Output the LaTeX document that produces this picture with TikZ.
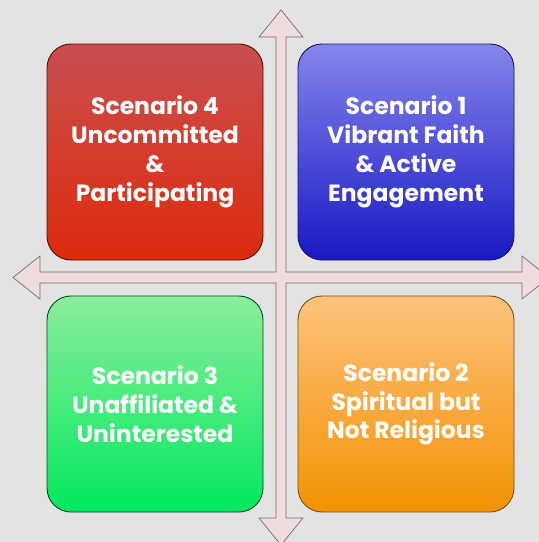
\documentclass[tikz,border=0pt]{standalone}
\usepackage{fontspec}
\setmainfont{Poppins}
\definecolor{bg}{HTML}{E3E3E3}
\definecolor{crossfill}{HTML}{EFDCDC}
\definecolor{crossline}{HTML}{7A6A6A}
\definecolor{rtop}{HTML}{C94F4F}\definecolor{rmid}{HTML}{B01800}\definecolor{rbot}{HTML}{DD2A0C}
\definecolor{btop}{HTML}{8585EC}\definecolor{bmid}{HTML}{2828CC}\definecolor{bbot}{HTML}{1818C4}
\definecolor{gtop}{HTML}{8CEE9C}\definecolor{gmid}{HTML}{00BE4C}\definecolor{gbot}{HTML}{00E85E}
\definecolor{otop}{HTML}{FFC27E}\definecolor{omid}{HTML}{F4A11E}\definecolor{obot}{HTML}{F39200}
\begin{document}
\begin{tikzpicture}[x=1pt,y=-1pt,
  quad/.style={draw=#1, line width=0.9pt, rounded corners=24pt,
    minimum width=216pt, minimum height=216pt, inner sep=0pt,
    align=center, text=white,
    font=\bfseries\fontsize{23.5}{28.8}\selectfont},
  redq/.style={quad=rmid!50!black, top color=rtop, middle color=rmid, bottom color=rbot},
  blueq/.style={quad=bmid!50!black, top color=btop, middle color=bmid, bottom color=bbot},
  greenq/.style={quad=gmid!40!black, top color=gtop, middle color=gmid, bottom color=gbot},
  orangeq/.style={quad=omid!50!black, top color=otop, middle color=omid, bottom color=obot},
  crossstyle/.style={fill=crossfill, draw=crossline, line width=0.7pt, line join=miter}]
\useasboundingbox (0,0) rectangle (539,542);
\fill[bg] (0,0) rectangle (539,542);
\begin{scope}
\clip (0,0) rectangle (539,542);
\draw[crossstyle] (281,10) -- (303,37) -- (286,37) -- (286,272) -- (522,272) -- (522,256)
  -- (549,277.5) -- (522,299) -- (522,283) -- (286,283) -- (286,518) -- (303,518)
  -- (281,545) -- (259,518) -- (276,518) -- (276,283) -- (40,283) -- (40,299)
  -- (13,277.5) -- (40,256) -- (40,272) -- (276,272) -- (276,37) -- (259,37) -- cycle;
\end{scope}
\node[redq] (s4) at (155,152) {Scenario 4\\Uncommitted\\\&\\Participating};
\node[blueq] (s1) at (406,152) {Scenario 1\\Vibrant Faith\\\& Active\\Engagement};
\node[greenq] (s3) at (155,404) {Scenario 3\\Unaffiliated \&\\Uninterested};
\node[orangeq] (s2) at (406,404) {Scenario 2\\Spiritual but\\Not Religious};
\end{tikzpicture}
\end{document}
